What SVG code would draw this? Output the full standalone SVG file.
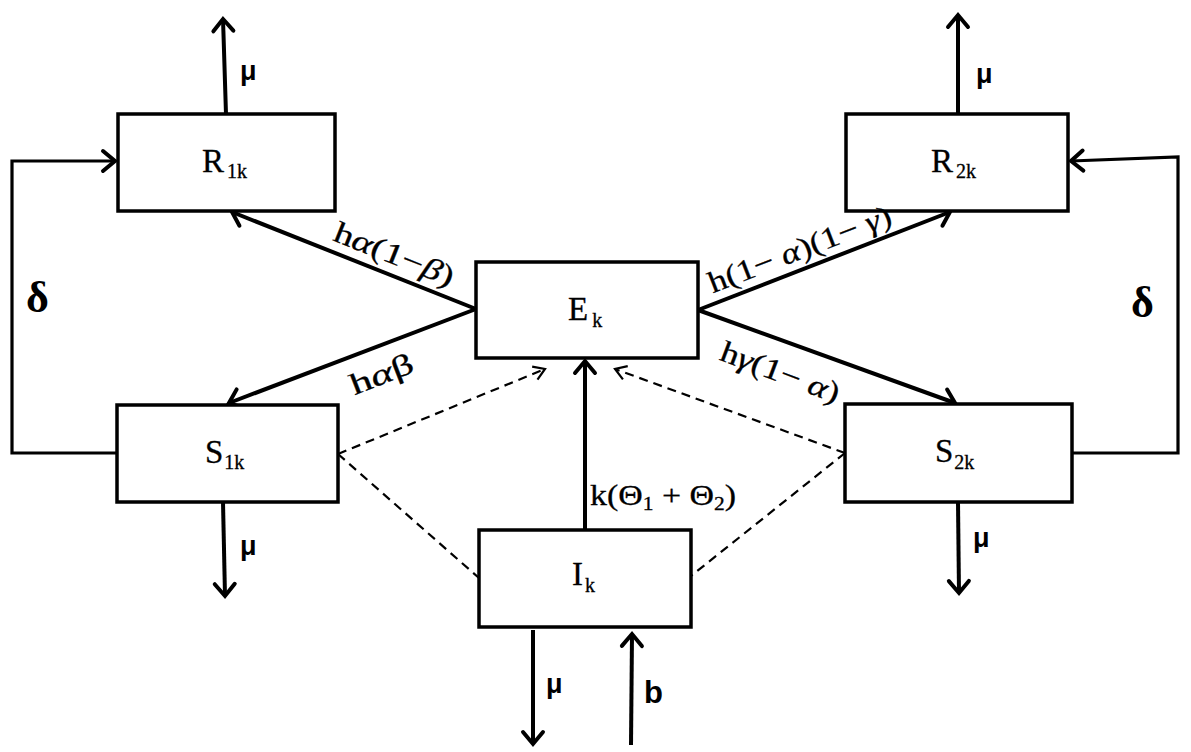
<svg xmlns="http://www.w3.org/2000/svg" width="1191" height="752" viewBox="0 0 1191 752">
<defs>
<style>
.box{fill:#fff;stroke:#000;stroke-width:3.5}
.solid{fill:none;stroke:#000;stroke-width:4}
.loop{fill:none;stroke:#000;stroke-width:3.2}
.dash{fill:none;stroke:#000;stroke-width:2.2;stroke-dasharray:9 6}
.lbl{font-family:"Liberation Serif","Times New Roman",serif;font-size:33px;fill:#000;stroke:#000;stroke-width:0.3}
.sub{font-size:20px}
.mu{font-family:"Liberation Sans",Arial,sans-serif;font-weight:bold;font-size:27px;fill:#000}
.rate{font-family:"Liberation Serif","Times New Roman",serif;font-size:30px;fill:#000;stroke:#000;stroke-width:0.3}
.gr{font-style:italic}
.delta{font-family:"Liberation Serif","Times New Roman",serif;font-size:44px;font-weight:bold;fill:#000}
</style>
<marker id="ah" markerUnits="userSpaceOnUse" viewBox="-20 -15 25 30" markerWidth="25" markerHeight="30" refX="0" refY="0" orient="auto" overflow="visible">
<path d="M-12,-10 L0,0 L-12,10" fill="none" stroke="#000" stroke-width="4" stroke-linecap="round"/>
</marker>
<marker id="ahd" markerUnits="userSpaceOnUse" viewBox="-20 -15 25 30" markerWidth="25" markerHeight="30" refX="0" refY="0" orient="auto" overflow="visible">
<path d="M-11,-7 L0,0 L-11,7" fill="none" stroke="#000" stroke-width="2.2"/>
</marker>
</defs>
<rect width="1191" height="752" fill="#fff"/>

<g id="connectors">
<line class="solid" x1="226" y1="114" x2="223" y2="19" marker-end="url(#ah)"/>
<line class="solid" x1="958" y1="114" x2="958" y2="15" marker-end="url(#ah)"/>
<line class="solid" x1="223" y1="502" x2="225" y2="596" marker-end="url(#ah)"/>
<line class="solid" x1="958" y1="502" x2="959" y2="593" marker-end="url(#ah)"/>
<line class="solid" x1="533" y1="630" x2="533" y2="744" marker-end="url(#ah)"/>
<line class="solid" x1="631" y1="745" x2="632" y2="634" marker-end="url(#ah)"/>
<line class="solid" x1="476" y1="309" x2="232" y2="212" marker-end="url(#ah)"/>
<line class="solid" x1="476" y1="309" x2="229" y2="403" marker-end="url(#ah)"/>
<line class="solid" x1="698" y1="310" x2="950" y2="212" marker-end="url(#ah)"/>
<line class="solid" x1="698" y1="310" x2="955" y2="403" marker-end="url(#ah)"/>
<line class="solid" x1="585" y1="530" x2="585" y2="361" marker-end="url(#ah)"/>
<polyline class="loop" points="117,453 12,453 12,161 115,161" marker-end="url(#ah)"/>
<polyline class="loop" points="1073,453 1178,453 1178,157 1071,161" marker-end="url(#ah)"/>
<line class="dash" x1="338" y1="454" x2="545" y2="369" marker-end="url(#ahd)"/>
<line class="dash" x1="338" y1="454" x2="479" y2="578"/>
<line class="dash" x1="845" y1="453" x2="615" y2="369" marker-end="url(#ahd)"/>
<line class="dash" x1="845" y1="453" x2="691" y2="576"/>
</g>

<g id="R1k">
<rect class="box" x="118" y="114" width="217" height="97"/>
<text class="lbl" x="202" y="172">R<tspan class="sub" dx="3" dy="6">1k</tspan></text>
</g>
<g id="R2k">
<rect class="box" x="846" y="114" width="222" height="97"/>
<text class="lbl" x="931" y="172">R<tspan class="sub" dx="3" dy="6">2k</tspan></text>
</g>
<g id="Ek">
<rect class="box" x="476" y="262" width="222" height="96"/>
<text class="lbl" x="568" y="320">E<tspan class="sub" dx="4" dy="7">k</tspan></text>
</g>
<g id="S1k">
<rect class="box" x="117" y="405" width="221" height="97"/>
<text class="lbl" x="205" y="463">S<tspan class="sub" dx="1" dy="6">1k</tspan></text>
</g>
<g id="S2k">
<rect class="box" x="845" y="404" width="227" height="98"/>
<text class="lbl" x="935" y="462">S<tspan class="sub" dx="1" dy="7">2k</tspan></text>
</g>
<g id="Ik">
<rect class="box" x="479" y="530" width="212" height="97"/>
<text class="lbl" x="572" y="585">I<tspan class="sub" dx="2" dy="7">k</tspan></text>
</g>

<g id="labels">
<text class="mu" x="240" y="80">μ</text>
<text class="mu" x="976" y="83">μ</text>
<text class="mu" x="240" y="555">μ</text>
<text class="mu" x="973" y="547">μ</text>
<text class="mu" x="546" y="693">μ</text>
<text class="mu" x="644" y="703" style="font-size:31px">b</text>
<text class="delta" x="26" y="312">δ</text>
<text class="delta" x="1131" y="317">δ</text>
<text class="rate" transform="translate(394,255) rotate(21.6)" x="0" y="9" text-anchor="middle" textLength="127" lengthAdjust="spacingAndGlyphs">h<tspan class="gr">α</tspan>(1−<tspan class="gr">β</tspan>)</text>
<text class="rate" transform="translate(382,375) rotate(-21.3)" x="0" y="9" text-anchor="middle" textLength="66" lengthAdjust="spacingAndGlyphs">h<tspan class="gr">α</tspan>β</text>
<text class="rate" transform="translate(800,250) rotate(-21.1)" x="0" y="9" text-anchor="middle" textLength="194" lengthAdjust="spacingAndGlyphs">h(1− <tspan class="gr">α</tspan>)(1− <tspan class="gr">γ</tspan>)</text>
<text class="rate" transform="translate(780,373) rotate(20.5)" x="0" y="9" text-anchor="middle" textLength="125" lengthAdjust="spacingAndGlyphs">h<tspan class="gr">γ</tspan>(1− <tspan class="gr">α</tspan>)</text>
<text class="rate" x="590" y="505" textLength="146" lengthAdjust="spacingAndGlyphs">k(Θ<tspan style="font-size:19px" dy="5">1</tspan><tspan dy="-5"> + Θ</tspan><tspan style="font-size:19px" dy="5">2</tspan><tspan dy="-5">)</tspan></text>
</g>
</svg>
